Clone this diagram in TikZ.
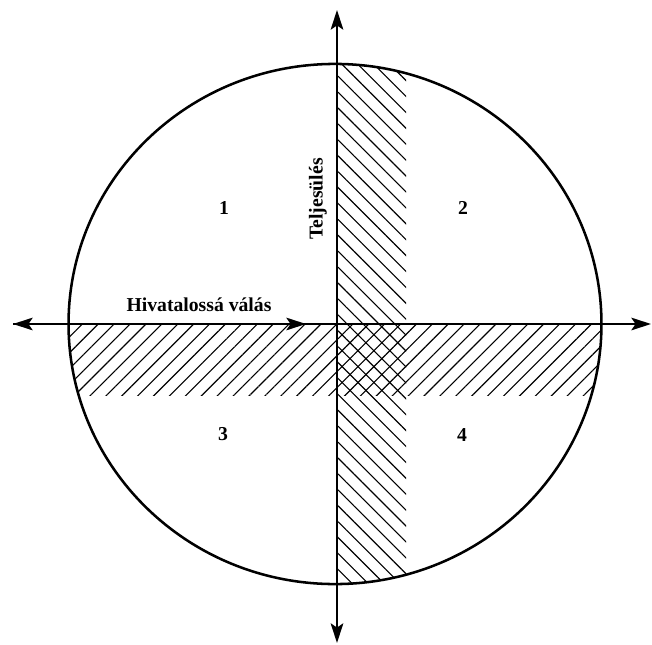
\documentclass[tikz,border=0pt]{standalone}
\usepackage{fontspec}
\setmainfont{Liberation Serif}
\usetikzlibrary{arrows.meta,patterns.meta}
\begin{document}
\begin{tikzpicture}[x=0.025cm, y=-0.025cm,
	axis/.style={line width=1.1pt, -{Stealth[length=14pt,width=9pt,inset=3pt]}},
	lbl/.style={font=\fontsize{14}{16}\selectfont\bfseries}]
	\useasboundingbox (0,0) rectangle (652,645);
	\coordinate (O) at (337,324);
	\coordinate (top) at (337,10);
	\coordinate (bottom) at (337,643);
	\coordinate (west) at (13,324);
	\coordinate (east) at (651,324);
	\coordinate (mid) at (306,324);
	% hatched bands, clipped to the circle
	\begin{scope}
		\clip (335,324) ellipse [x radius=6.66cm, y radius=6.5cm];
		\fill[pattern={Lines[angle=-45,distance=8pt,line width=0.8pt]}] (337,0) rectangle (406,645);
		\fill[pattern={Lines[angle=45,distance=8pt,line width=0.8pt]}] (0,324) rectangle (652,395);
	\end{scope}
	\draw[line width=1.8pt] (335,324) ellipse [x radius=6.66cm, y radius=6.5cm];
	\draw[axis] (O) -- (top);
	\draw[axis] (O) -- (bottom);
	\draw[axis] (O) -- (west);
	\draw[axis] (O) -- (east);
	\draw[axis] (west) -- (mid);
	\node[lbl] (q1) at (224,208) {1};
	\node[lbl] (q2) at (463,208) {2};
	\node[lbl] (q3) at (223,434) {3};
	\node[lbl] (q4) at (462,435) {4};
	\node[lbl, anchor=base] (formal) at (199,311) {Hivatalossá válás};
	\node[lbl, rotate=90] (fulfil) at (318,199) {Teljesülés};
\end{tikzpicture}
\end{document}
